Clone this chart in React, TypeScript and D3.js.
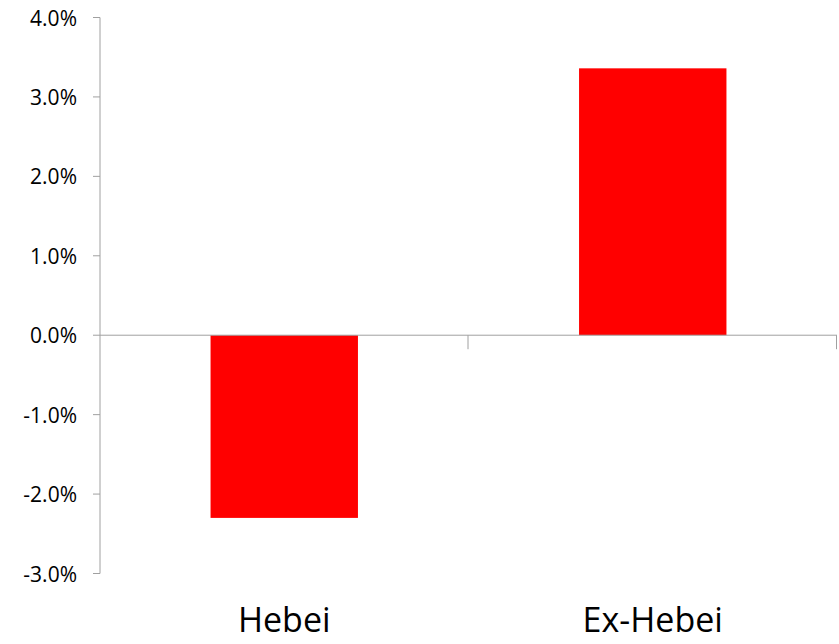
import React from "react";
import * as d3 from "d3";

const categories = ["Hebei", "Ex-Hebei"];
const values = [-2.3, 3.36];
const yTicks = [-3, -2, -1, 0, 1, 2, 3, 4];

const W = 839;
const H = 644;
const margin = { left: 100, right: 2, top: 17.5, bottom: 70.5 };

export default function App() {
  const y = d3
    .scaleLinear()
    .domain([-3, 4])
    .range([H - margin.bottom, margin.top]);
  const x = d3
    .scaleBand<string>()
    .domain(categories)
    .range([margin.left, W - margin.right])
    .paddingInner(0.6)
    .paddingOuter(0.3);
  const step = x.step();
  const x0 = margin.left;
  const axisColor = "#a0a0a0";
  const fmt = (v: number) => v.toFixed(1) + "%";
  const font = "'Open Sans', sans-serif";

  return (
    <svg
      width={W}
      height={H}
      style={{ position: "absolute", left: 0, top: 0, background: "#fff" }}
    >
      {/* bars */}
      {categories.map((c, i) => {
        const v = values[i];
        const yTop = y(Math.max(0, v));
        const yBot = y(Math.min(0, v));
        return (
          <rect
            key={c}
            x={x(c)}
            y={yTop}
            width={x.bandwidth()}
            height={yBot - yTop}
            fill="#ff0000"
          />
        );
      })}

      {/* y axis */}
      <line
        x1={x0}
        x2={x0}
        y1={y(-3)}
        y2={y(4)}
        stroke={axisColor}
        strokeWidth={1}
      />
      {yTicks.map((t) => (
        <g key={t}>
          <line
            x1={x0 - 7}
            x2={x0}
            y1={y(t)}
            y2={y(t)}
            stroke={axisColor}
            strokeWidth={1}
          />
          <text
            x={77}
            y={y(t)}
            textAnchor="end"
            dominantBaseline="central"
            fontFamily={font}
            fontSize={21}
            fill="#000"
          >
            {fmt(t)}
          </text>
        </g>
      ))}

      {/* category axis along zero */}
      <line
        x1={x0}
        x2={W - margin.right}
        y1={y(0)}
        y2={y(0)}
        stroke={axisColor}
        strokeWidth={1}
      />
      {categories.map((c, i) => (
        <line
          key={"t" + c}
          x1={x0 + step * (i + 1) - 0.5}
          x2={x0 + step * (i + 1) - 0.5}
          y1={y(0)}
          y2={y(0) + 14}
          stroke={axisColor}
          strokeWidth={1}
        />
      ))}
      {categories.map((c) => (
        <text
          key={"l" + c}
          x={(x(c) ?? 0) + x.bandwidth() / 2}
          y={632}
          textAnchor="middle"
          fontFamily={font}
          fontSize={34}
          fill="#000"
        >
          {c}
        </text>
      ))}
    </svg>
  );
}
